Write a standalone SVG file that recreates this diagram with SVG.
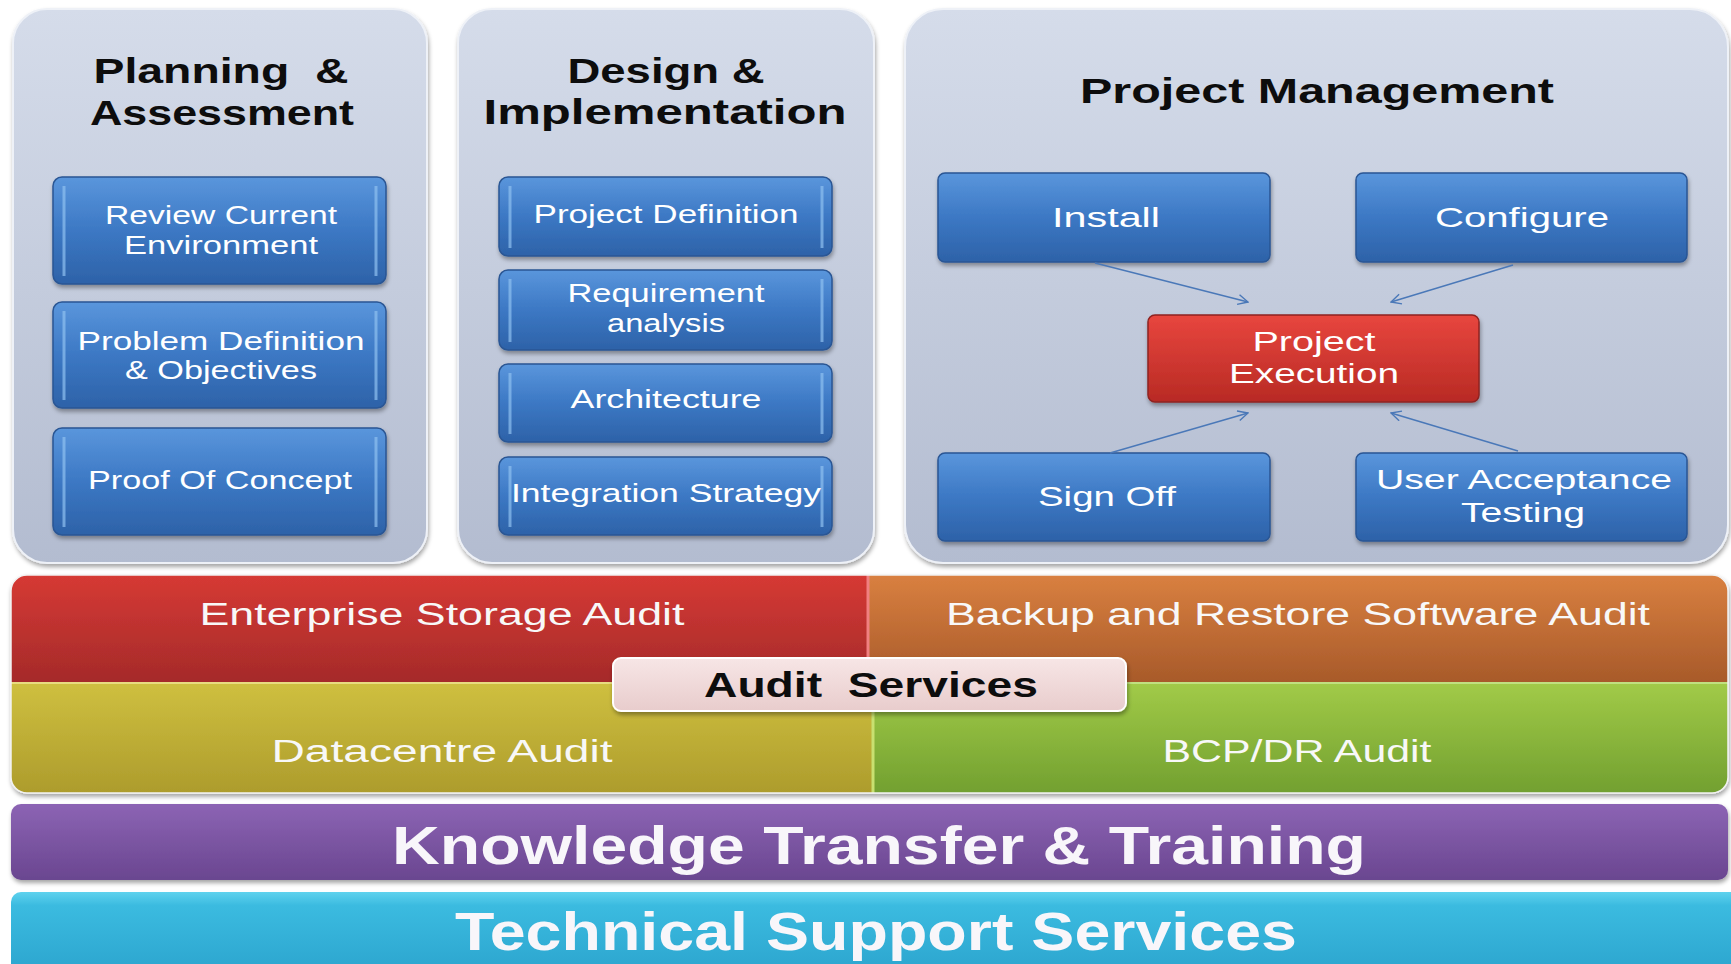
<svg xmlns="http://www.w3.org/2000/svg" width="1731" height="964" viewBox="0 0 1731 964">
<defs>
  <linearGradient id="gPanel" x1="0" y1="0" x2="0" y2="1">
    <stop offset="0" stop-color="#d5dcea"/>
    <stop offset="1" stop-color="#b3bcd0"/>
  </linearGradient>
  <linearGradient id="gBlue" x1="0" y1="0" x2="0" y2="1">
    <stop offset="0" stop-color="#5a96dc"/>
    <stop offset="0.5" stop-color="#3c78c4"/>
    <stop offset="1" stop-color="#2d62a8"/>
  </linearGradient>
  <linearGradient id="gRed" x1="0" y1="0" x2="0" y2="1">
    <stop offset="0" stop-color="#e8463e"/>
    <stop offset="1" stop-color="#b82a24"/>
  </linearGradient>
  <linearGradient id="gBandRed" x1="0" y1="0" x2="0" y2="1">
    <stop offset="0" stop-color="#d63a34"/>
    <stop offset="1" stop-color="#a52a2a"/>
  </linearGradient>
  <linearGradient id="gBandOrange" x1="0" y1="0" x2="0" y2="1">
    <stop offset="0" stop-color="#d98040"/>
    <stop offset="1" stop-color="#a85a2a"/>
  </linearGradient>
  <linearGradient id="gBandOlive" x1="0" y1="0" x2="0" y2="1">
    <stop offset="0" stop-color="#cfc040"/>
    <stop offset="1" stop-color="#ad9c2c"/>
  </linearGradient>
  <linearGradient id="gBandGreen" x1="0" y1="0" x2="0" y2="1">
    <stop offset="0" stop-color="#a2cb48"/>
    <stop offset="1" stop-color="#72a030"/>
  </linearGradient>
  <linearGradient id="gPurple" x1="0" y1="0" x2="0" y2="1">
    <stop offset="0" stop-color="#8c64b4"/>
    <stop offset="1" stop-color="#6a4690"/>
  </linearGradient>
  <linearGradient id="gCyan" x1="0" y1="0" x2="0" y2="1">
    <stop offset="0" stop-color="#5fd2ee"/>
    <stop offset="0.15" stop-color="#3bbbe0"/>
    <stop offset="1" stop-color="#2aa2cc"/>
  </linearGradient>
  <linearGradient id="gPink" x1="0" y1="0" x2="0" y2="1">
    <stop offset="0" stop-color="#f7e6e6"/>
    <stop offset="1" stop-color="#e8cccc"/>
  </linearGradient>
  <filter id="shadow" x="-5%" y="-5%" width="110%" height="120%">
    <feDropShadow dx="1" dy="3" stdDeviation="2" flood-color="#000" flood-opacity="0.35"/>
  </filter>
  <clipPath id="auditClip">
    <rect x="11" y="575" width="1717" height="218" rx="16"/>
  </clipPath>
  <marker id="arr" viewBox="0 0 12 12" refX="11" refY="6" markerWidth="12" markerHeight="12" markerUnits="userSpaceOnUse" orient="auto">
    <path d="M1,1 L11,6 L1,11" fill="none" stroke="#4a78b8" stroke-width="1.4"/>
  </marker>
</defs>
<style>
  text { white-space: pre; }
  .panel { fill: url(#gPanel); stroke: #eef1f7; stroke-width: 2; filter: url(#shadow); }
  .box { fill: url(#gBlue); stroke: #2a5694; stroke-width: 1.5; filter: url(#shadow); }
  .boxr { fill: url(#gRed); stroke: #8e2420; stroke-width: 1.5; filter: url(#shadow); }
  .hl { fill: none; stroke: #8ec0f0; stroke-width: 3; opacity: 0.7; }
  .title { font-family: "Liberation Sans", Arial, sans-serif; font-weight: bold; font-size: 35px; fill: #0d0d0d; text-anchor: middle; }
  .bt { font-family: "Liberation Sans", Arial, sans-serif; font-size: 25px; fill: #ffffff; text-anchor: middle; }
  .pt { font-family: "Liberation Sans", Arial, sans-serif; font-size: 27.5px; fill: #ffffff; text-anchor: middle; }
  .at { font-family: "Liberation Sans", Arial, sans-serif; font-size: 31px; fill: #f8f8f8; text-anchor: middle; }
  .big { font-family: "Liberation Sans", Arial, sans-serif; font-weight: bold; font-size: 54px; fill: #f8f6fa; text-anchor: middle; }
  .conn { stroke: #4a78b8; stroke-width: 1.4; fill: none; marker-end: url(#arr); }
</style>

<g id="panel-planning">
  <rect class="panel" x="13" y="9" width="414" height="554" rx="34"/>
  <text class="title" x="221" y="83" textLength="255" lengthAdjust="spacingAndGlyphs">Planning  &amp;</text>
  <text class="title" x="222" y="125" textLength="264" lengthAdjust="spacingAndGlyphs">Assessment</text>
</g>
<g id="node-review">
  <rect class="box" x="53" y="177" width="333" height="107" rx="9"/>
  <line class="hl" x1="64" y1="186" x2="64" y2="276"/><line class="hl" x1="376" y1="186" x2="376" y2="276"/>
  <text class="bt" x="221" y="224" textLength="232" lengthAdjust="spacingAndGlyphs">Review Current</text>
  <text class="bt" x="221" y="254" textLength="194" lengthAdjust="spacingAndGlyphs">Environment</text>
</g>
<g id="node-problem">
  <rect class="box" x="53" y="302" width="333" height="106" rx="9"/>
  <line class="hl" x1="64" y1="311" x2="64" y2="400"/><line class="hl" x1="376" y1="311" x2="376" y2="400"/>
  <text class="bt" x="221" y="350" textLength="287" lengthAdjust="spacingAndGlyphs">Problem Definition</text>
  <text class="bt" x="221" y="379" textLength="192" lengthAdjust="spacingAndGlyphs">&amp; Objectives</text>
</g>
<g id="node-poc">
  <rect class="box" x="53" y="428" width="333" height="107" rx="9"/>
  <line class="hl" x1="64" y1="437" x2="64" y2="527"/><line class="hl" x1="376" y1="437" x2="376" y2="527"/>
  <text class="bt" x="220" y="489" font-size="26" textLength="264" lengthAdjust="spacingAndGlyphs">Proof Of Concept</text>
</g>

<g id="panel-design">
  <rect class="panel" x="458" y="9" width="416" height="554" rx="34"/>
  <text class="title" x="666" y="83" textLength="197" lengthAdjust="spacingAndGlyphs">Design &amp;</text>
  <text class="title" x="665" y="124" textLength="363" lengthAdjust="spacingAndGlyphs">Implementation</text>
</g>
<g id="node-projdef">
  <rect class="box" x="499" y="177" width="333" height="79" rx="9"/>
  <line class="hl" x1="510" y1="186" x2="510" y2="248"/><line class="hl" x1="822" y1="186" x2="822" y2="248"/>
  <text class="bt" x="666" y="223" font-size="26" textLength="265" lengthAdjust="spacingAndGlyphs">Project Definition</text>
</g>
<g id="node-req">
  <rect class="box" x="499" y="270" width="333" height="80" rx="9"/>
  <line class="hl" x1="510" y1="279" x2="510" y2="342"/><line class="hl" x1="822" y1="279" x2="822" y2="342"/>
  <text class="bt" x="666" y="302" textLength="197" lengthAdjust="spacingAndGlyphs">Requirement</text>
  <text class="bt" x="666" y="332" textLength="118" lengthAdjust="spacingAndGlyphs">analysis</text>
</g>
<g id="node-arch">
  <rect class="box" x="499" y="364" width="333" height="78" rx="9"/>
  <line class="hl" x1="510" y1="373" x2="510" y2="434"/><line class="hl" x1="822" y1="373" x2="822" y2="434"/>
  <text class="bt" x="666" y="408" font-size="26" textLength="191" lengthAdjust="spacingAndGlyphs">Architecture</text>
</g>
<g id="node-integ">
  <rect class="box" x="499" y="457" width="333" height="78" rx="9"/>
  <line class="hl" x1="510" y1="466" x2="510" y2="527"/><line class="hl" x1="822" y1="466" x2="822" y2="527"/>
  <text class="bt" x="666" y="502" font-size="26" textLength="310" lengthAdjust="spacingAndGlyphs">Integration Strategy</text>
</g>

<g id="panel-pm">
  <rect class="panel" x="905" y="9" width="823" height="554" rx="38"/>
  <text class="title" x="1317" y="103" textLength="474" lengthAdjust="spacingAndGlyphs">Project Management</text>
</g>
<g id="node-install">
  <rect class="box" x="938" y="173" width="332" height="89" rx="7"/>
  <text class="pt" x="1106" y="227" font-size="30" textLength="108" lengthAdjust="spacingAndGlyphs">Install</text>
</g>
<g id="node-configure">
  <rect class="box" x="1356" y="173" width="331" height="89" rx="7"/>
  <text class="pt" x="1522" y="227" font-size="30" textLength="174" lengthAdjust="spacingAndGlyphs">Configure</text>
</g>
<g id="node-exec">
  <rect class="boxr" x="1148" y="315" width="331" height="87" rx="7"/>
  <text class="pt" x="1314" y="351" textLength="123" lengthAdjust="spacingAndGlyphs">Project</text>
  <text class="pt" x="1314" y="383" textLength="170" lengthAdjust="spacingAndGlyphs">Execution</text>
</g>
<g id="node-signoff">
  <rect class="box" x="938" y="453" width="332" height="88" rx="7"/>
  <text class="pt" x="1107" y="506" font-size="30" textLength="138" lengthAdjust="spacingAndGlyphs">Sign Off</text>
</g>
<g id="node-uat">
  <rect class="box" x="1356" y="453" width="331" height="88" rx="7"/>
  <text class="pt" x="1524" y="489" textLength="296" lengthAdjust="spacingAndGlyphs">User Acceptance</text>
  <text class="pt" x="1523" y="522" textLength="124" lengthAdjust="spacingAndGlyphs">Testing</text>
</g>

<g id="connectors">
  <line class="conn" x1="1095" y1="263" x2="1248" y2="302"/>
  <line class="conn" x1="1513" y1="265" x2="1391" y2="302"/>
  <line class="conn" x1="1110" y1="453" x2="1248" y2="413"/>
  <line class="conn" x1="1518" y1="451" x2="1391" y2="413"/>
</g>

<g id="audit-bands" filter="url(#shadow)">
  <g clip-path="url(#auditClip)">
    <rect x="11" y="575" width="857" height="107" fill="url(#gBandRed)"/>
    <rect x="868" y="575" width="860" height="107" fill="url(#gBandOrange)"/>
    <rect x="11" y="682" width="862" height="111" fill="url(#gBandOlive)"/>
    <rect x="873" y="682" width="855" height="111" fill="url(#gBandGreen)"/>
    <line x1="868" y1="575" x2="868" y2="682" stroke="#f08080" stroke-width="3"/>
    <line x1="873" y1="682" x2="873" y2="793" stroke="#c8e070" stroke-width="3"/>
    <line x1="11" y1="683" x2="873" y2="683" stroke="#e8dc80" stroke-width="2"/>
    <line x1="873" y1="683" x2="1728" y2="683" stroke="#c0e080" stroke-width="2"/>
  </g>
  <rect x="11" y="575" width="1717" height="218" rx="16" fill="none" stroke="#f2f2f2" stroke-width="1.5"/>
</g>
<g id="node-storage">
  <text class="at" x="442" y="625" textLength="485" lengthAdjust="spacingAndGlyphs">Enterprise Storage Audit</text>
</g>
<g id="node-backup">
  <text class="at" x="1298" y="625" textLength="704" lengthAdjust="spacingAndGlyphs">Backup and Restore Software Audit</text>
</g>
<g id="node-datacentre">
  <text class="at" x="442" y="762" textLength="341" lengthAdjust="spacingAndGlyphs">Datacentre Audit</text>
</g>
<g id="node-bcp">
  <text class="at" x="1297" y="762" textLength="269" lengthAdjust="spacingAndGlyphs">BCP/DR Audit</text>
</g>
<g id="node-audit">
  <rect x="613" y="658" width="513" height="53" rx="8" fill="url(#gPink)" stroke="#ffffff" stroke-width="2" filter="url(#shadow)"/>
  <text class="title" x="871" y="697" font-size="35" textLength="334" lengthAdjust="spacingAndGlyphs">Audit  Services</text>
</g>

<g id="node-knowledge">
  <rect x="11" y="804" width="1717" height="76" rx="10" fill="url(#gPurple)" filter="url(#shadow)"/>
  <text class="big" x="879" y="864" textLength="974" lengthAdjust="spacingAndGlyphs">Knowledge Transfer &amp; Training</text>
</g>
<g id="node-technical">
  <rect x="11" y="892" width="1730" height="90" rx="10" fill="url(#gCyan)"/>
  <text class="big" x="876" y="950" textLength="842" lengthAdjust="spacingAndGlyphs">Technical Support Services</text>
</g>
</svg>
